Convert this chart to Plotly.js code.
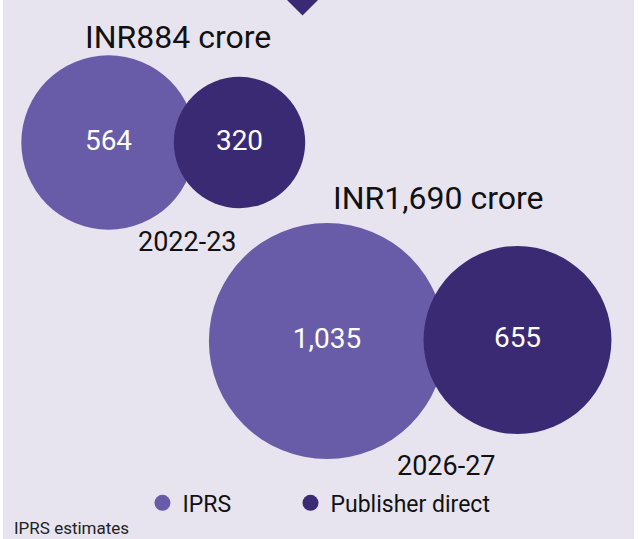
<!DOCTYPE html>
<html>
<head>
<meta charset="utf-8">
<script src="https://cdn.plot.ly/plotly-3.0.1.min.js"></script>
<style>html,body{margin:0;padding:0;background:#fff;}#chart{width:644px;height:539px;}</style>
</head>
<body>
<div id="chart"></div>
<script>
// ---- data ----
var years = ['2022-23', '2026-27'];
var iprs = [564, 1035];
var publisherDirect = [320, 655];
var totals = ['INR884 crore', 'INR1,690 crore'];
var seriesNames = ['IPRS', 'Publisher direct'];
var source = 'IPRS estimates';

// ---- layout (bubble centres in page-pixel axis units) ----
var iprsX = [108.5, 327], iprsY = [142.5, 341];
var pubX = [239.5, 517.5], pubY = [142.5, 340];
var totalPos = [[178, 37], [437.5, 198]];
var yearPos = [[187.5, 242], [446.5, 466]];

var LIGHT = '#685ca8', DARK = '#3a2a73', BG = '#e7e4f0';
var FONT = 'Roboto, "Noto Sans", sans-serif';
var SIZEREF = 0.0371;

function fmt(v){ return v.toLocaleString('en-US'); }

var traces = [
  {
    type: 'scatter', mode: 'markers+text', name: seriesNames[0], legend: 'legend',
    x: iprsX, y: iprsY,
    text: iprs.map(fmt), textposition: 'middle center',
    textfont: {family: FONT, size: 28, color: '#ffffff'},
    marker: {size: iprs, sizemode: 'area', sizeref: SIZEREF, color: LIGHT, line: {width: 0}, opacity: 1},
    hoverinfo: 'skip', cliponaxis: false
  },
  {
    type: 'scatter', mode: 'markers+text', name: seriesNames[1], legend: 'legend2',
    x: pubX, y: pubY,
    text: publisherDirect.map(fmt), textposition: 'middle center',
    textfont: {family: FONT, size: 28, color: '#ffffff'},
    marker: {size: publisherDirect, sizemode: 'area', sizeref: SIZEREF, color: DARK, line: {width: 0}, opacity: 1},
    hoverinfo: 'skip', cliponaxis: false
  }
];

var annotations = [];
totals.forEach(function(t, i){
  annotations.push({text: t, x: totalPos[i][0], y: totalPos[i][1], xref: 'x', yref: 'y',
    showarrow: false, xanchor: 'center', yanchor: 'middle',
    font: {family: FONT, size: 32, color: '#111111'}});
});
years.forEach(function(t, i){
  annotations.push({text: t, x: yearPos[i][0], y: yearPos[i][1], xref: 'x', yref: 'y',
    showarrow: false, xanchor: 'center', yanchor: 'middle',
    font: {family: FONT, size: 27, color: '#111111'}});
});
annotations.push({text: source, x: 12, y: 528, xref: 'x', yref: 'y',
  showarrow: false, xanchor: 'left', yanchor: 'middle',
  font: {family: FONT, size: 17, color: '#222222'}});

function legendAt(x){
  return {
    orientation: 'h', x: x, xanchor: 'left', y: 0.067, yanchor: 'middle',
    bgcolor: 'rgba(0,0,0,0)', borderwidth: 0,
    font: {family: FONT, size: 23, color: '#111111'},
    itemsizing: 'trace'
  };
}

var layout = {
  width: 644, height: 539,
  margin: {l: 3, r: 10, t: 0, b: 0, pad: 0},
  paper_bgcolor: '#ffffff', plot_bgcolor: BG,
  xaxis: {range: [3, 634], visible: false, fixedrange: true},
  yaxis: {range: [539, 0], visible: false, fixedrange: true},
  showlegend: true,
  legend: legendAt(0.221),
  legend2: legendAt(0.4556),
  shapes: [{
    type: 'path', xref: 'x', yref: 'y',
    path: 'M285,-2 L320,-2 L302.5,15.5 Z',
    fillcolor: DARK, line: {width: 0}
  }],
  annotations: annotations,
  hovermode: false
};

Plotly.newPlot('chart', traces, layout, {displayModeBar: false, staticPlot: true});
</script>
</body>
</html>
